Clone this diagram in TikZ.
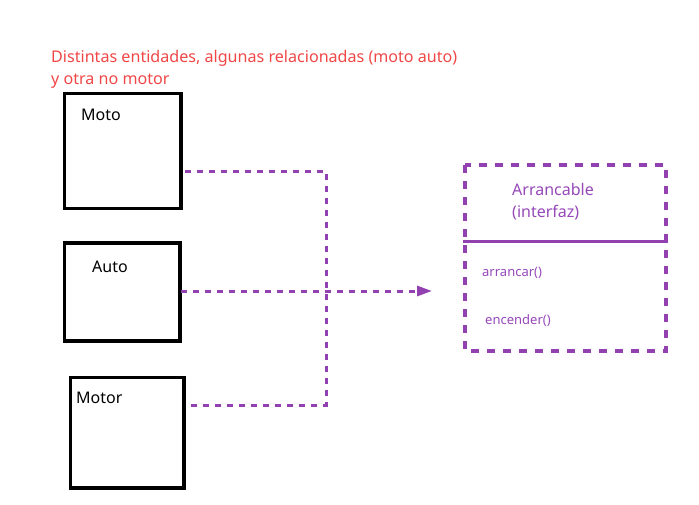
\documentclass[tikz,border=0pt]{standalone}
\usepackage{fontspec}
\setmainfont{Noto Sans}
\usetikzlibrary{arrows.meta}
\definecolor{purp}{RGB}{146,65,176}
\definecolor{purptxt}{RGB}{150,72,185}
\definecolor{redtxt}{RGB}{240,70,70}
\begin{document}
\begin{tikzpicture}[x=1pt,y=-1pt,
  entity/.style={draw=black,line width=3.5pt,inner sep=0pt},
  lbl/.style={font=\fontsize{16}{18}\selectfont,anchor=west,inner sep=0pt},
  conn/.style={draw=purp,line width=3pt,dash pattern=on 6pt off 6pt},
  iface/.style={draw=purp,line width=3.5pt,dash pattern=on 8pt off 8pt},
  ptxt/.style={text=purptxt,anchor=west,inner sep=0pt}]
\useasboundingbox (0,0) rectangle (699,504);
\node[anchor=west,inner sep=0pt,text=redtxt,align=left,font=\fontsize{16.1}{22}\selectfont] (title) at (51,69) {Distintas entidades, algunas relacionadas (moto auto)\\y otra no motor};
% entity boxes
\draw[entity] (64.5,93.5) rectangle (181,208.5);
\coordinate (motoR) at (185,171);
\node[lbl] (moto) at (81,114.5) {Moto};
\draw[entity] (64.5,243) rectangle (180,341);
\coordinate (autoR) at (181,291);
\node[lbl] (auto) at (92,266.5) {Auto};
\draw[entity] (70.5,377.5) rectangle (184,488);
\coordinate (motorR) at (189,405);
\node[lbl] (motor) at (76,397.5) {Motor};
% junction and arrow target
\coordinate (jt) at (326,171);
\coordinate (jb) at (326,405);
\coordinate (tip) at (432,291);
\draw[conn] (motoR) -- (jt) -- (jb) -- (motorR);
\draw[conn,-{Triangle[length=15pt,width=10pt]}] (autoR) -- (tip);
% interface
\draw[iface] (465,165) rectangle (666,351);
\coordinate (sepL) at (463,241);
\coordinate (sepR) at (668,241);
\draw[purp,line width=3pt] (sepL) -- (sepR);
\node[ptxt,align=left,font=\fontsize{16}{22}\selectfont] (iname) at (512,202) {Arrancable\\(interfaz)};
\node[ptxt,font=\fontsize{13}{15}\selectfont] (m1) at (482,273) {arrancar()};
\node[ptxt,font=\fontsize{13}{15}\selectfont] (m2) at (485,321) {encender()};
\end{tikzpicture}
\end{document}
